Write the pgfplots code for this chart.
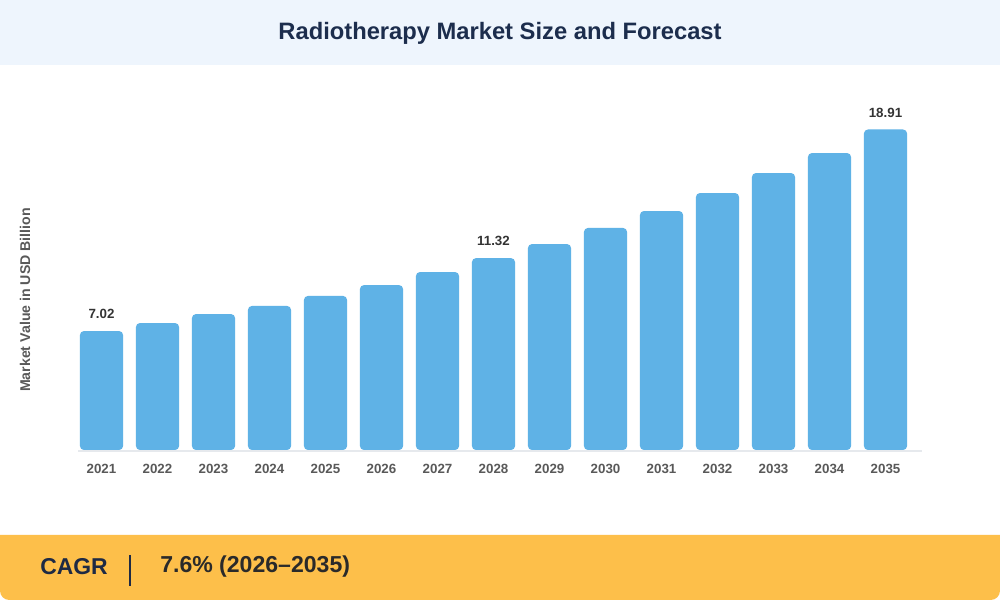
\documentclass[border=0pt]{standalone}
\usepackage{pgfplots}
\pgfplotsset{compat=1.18}
\usepackage{fontspec}
\setmainfont{Liberation Sans}

\definecolor{headbg}{HTML}{EEF5FD}
\definecolor{titlenavy}{HTML}{1C2D4D}
\definecolor{barblue}{HTML}{5FB2E6}
\definecolor{tickgray}{HTML}{595959}
\definecolor{labeldark}{HTML}{333333}
\definecolor{basegray}{HTML}{E6E9ED}
\definecolor{cagrbg}{HTML}{FDBF4A}
\definecolor{cagrnavy}{HTML}{1E2A44}
\definecolor{cagrtext}{HTML}{2A2A2A}

% rectangles built from line segments, so that rounded corners reach the bars
\makeatletter
\newdimen\rc@xa \newdimen\rc@ya \newdimen\rc@xb \newdimen\rc@yb \newdimen\rc@xm
\def\pgfpathrectanglecorners#1#2{%
  \pgf@process{#1}\rc@xa=\pgf@x \rc@ya=\pgf@y
  \pgf@process{#2}\rc@xb=\pgf@x \rc@yb=\pgf@y
  \rc@xm=\rc@xa \advance\rc@xm by \rc@xb \divide\rc@xm by 2
  \pgfpathmoveto{\pgfqpoint{\rc@xm}{\rc@ya}}%
  \pgfpathlineto{\pgfqpoint{\rc@xb}{\rc@ya}}%
  \pgfpathlineto{\pgfqpoint{\rc@xb}{\rc@yb}}%
  \pgfpathlineto{\pgfqpoint{\rc@xa}{\rc@yb}}%
  \pgfpathlineto{\pgfqpoint{\rc@xa}{\rc@ya}}%
  \pgfpathclose}
\makeatother

\begin{document}
\begin{tikzpicture}[x=0.75pt,y=0.75pt]
% background bands (coordinates in pixels, origin bottom left)
\fill[white] (0,0) rectangle (1000,600);
\fill[headbg] (0,535) rectangle (1000,600);
\node[font=\bfseries\fontsize{17.8}{20}\selectfont, text=titlenavy] at (500,567) {Radiotherapy Market Size and Forecast};
\fill[cagrbg] (0,65) -- (1000,65) [rounded corners=7pt] -- (1000,0) -- (0,0) [sharp corners] -- cycle;
\node[anchor=west, inner sep=0, font=\bfseries\fontsize{17.2}{20}\selectfont, text=cagrnavy] at (40,33) {CAGR};
\draw[cagrnavy, line width=0.9pt] (130,45) -- (130,14);
\node[anchor=west, inner sep=0, font=\bfseries\fontsize{17.3}{20}\selectfont, text=cagrtext] at (160,33) {7.6\% (2026\textendash 2035)};
% baseline
\draw[basegray, line width=1.5pt] (78,149) -- (922,149);
% y label
\node[rotate=90, font=\bfseries\fontsize{10.6}{12}\selectfont, text=tickgray] at (25,300) {Market Value in USD Billion};

\begin{axis}[
    at={(55.125pt,112.5pt)}, anchor=south west,
    scale only axis, width=630pt, height=254.25pt,
    xmin=-0.5, xmax=14.5, ymin=0, ymax=20,
    axis lines*=left, axis line style={draw=none},
    tick style={draw=none}, major tick length=0pt,
    ytick=\empty,
    xtick={0,...,14},
    xticklabels={2021,2022,2023,2024,2025,2026,2027,2028,2029,2030,2031,2032,2033,2034,2035},
    xticklabel style={anchor=center, yshift=-14.25pt, font=\bfseries\fontsize{10}{12}\selectfont, text=tickgray},
    clip=false,
]
\addplot[ybar, bar width=0.77, fill=barblue, draw=none, rounded corners=3pt]
    coordinates {(0,7.02)(1,7.49)(2,8.02)(3,8.50)(4,9.09)(5,9.73)(6,10.50)(7,11.32)(8,12.15)(9,13.10)(10,14.10)(11,15.16)(12,16.34)(13,17.52)(14,18.91)};
\addplot[only marks, mark=none, nodes near coords, point meta=explicit symbolic,
    nodes near coords style={anchor=center, yshift=12.75pt, font=\bfseries\fontsize{10}{12}\selectfont, text=labeldark}]
    coordinates {(0,7.02)[7.02] (7,11.32)[11.32] (14,18.91)[18.91]};
\end{axis}
\pgfresetboundingbox
\path (0,0) rectangle (1000,600);
\end{tikzpicture}
\end{document}
